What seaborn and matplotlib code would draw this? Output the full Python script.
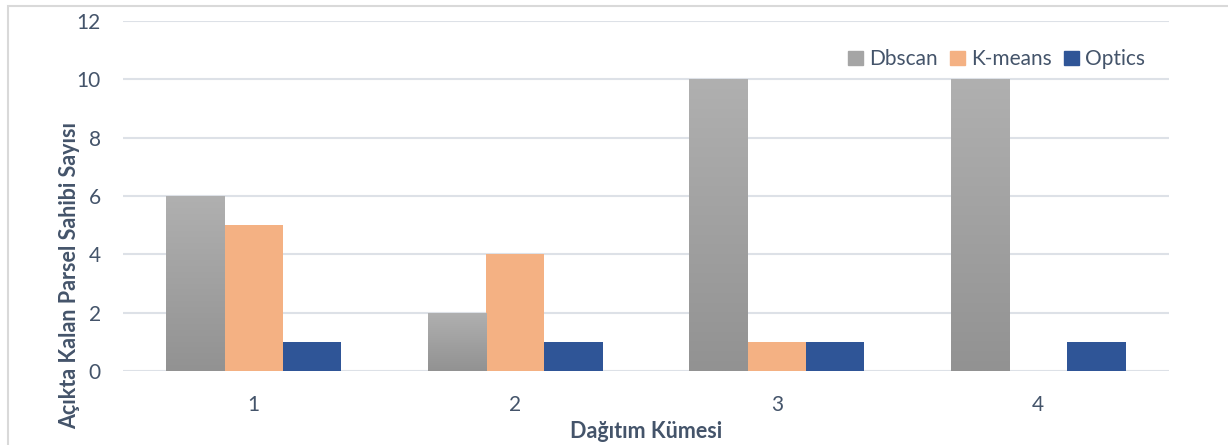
import numpy as np
import pandas as pd
import matplotlib
matplotlib.use("Agg")
import matplotlib.pyplot as plt
import matplotlib.patches as mpatches
import seaborn as sns

clusters = ["1", "2", "3", "4"]
methods = ["Dbscan", "K-means", "Optics"]
dbscan = [6, 2, 10, 10]
kmeans = [5, 4, 1, 0]
optics = [1, 1, 1, 1]
yticks = [0, 2, 4, 6, 8, 10, 12]

df = pd.DataFrame({
    "cluster": clusters * 3,
    "method": ["Dbscan"] * 4 + ["K-means"] * 4 + ["Optics"] * 4,
    "value": dbscan + kmeans + optics,
})

sns.set_theme(style="white")
plt.rcParams["font.family"] = ["Lato", "DejaVu Sans"]
text_color = "#44546A"
palette = {"Dbscan": "#A5A5A5", "K-means": "#F4B183", "Optics": "#2F5597"}

fig = plt.figure(figsize=(12.28, 4.45), dpi=100)
ax = fig.add_axes([123 / 1228, 1 - 371 / 445, (1169 - 123) / 1228, (371 - 21) / 445])

sns.barplot(data=df, x="cluster", y="value", hue="method", palette=palette,
            order=clusters, hue_order=methods, width=0.67, saturation=1,
            linewidth=0, ax=ax, legend=False, zorder=3)

# gradient fill for Dbscan bars
grad = np.linspace(0, 1, 256).reshape(-1, 1)
cmap = matplotlib.colors.LinearSegmentedColormap.from_list("g", ["#929292", "#B0B0B0"])
for p in ax.containers[0]:
    x0, y0 = p.get_x(), p.get_y()
    w, h = p.get_width(), p.get_height()
    if h <= 0:
        continue
    im = ax.imshow(grad, extent=[x0, x0 + w, y0, y0 + h], origin="lower",
                   cmap=cmap, aspect="auto", zorder=3)
    im.set_clip_path(p)
    p.set_facecolor("none")

ax.set_xlim(-0.5, 3.5)
ax.set_ylim(0, 12)
ax.set_yticks(yticks)
ax.yaxis.grid(True, color="#DDE1E7", linewidth=1.5, zorder=0)
ax.set_axisbelow(True)
for s in ax.spines.values():
    s.set_visible(False)
ax.tick_params(axis="both", length=0, labelsize=15, colors=text_color)
ax.tick_params(axis="x", pad=17)
ax.tick_params(axis="y", pad=16)

ax.set_xlabel("Dağıtım Kümesi", fontsize=15.5, fontweight="bold", color=text_color)
ax.set_ylabel("Açıkta Kalan Parsel Sahibi Sayısı", fontsize=15.5, fontweight="bold",
              color=text_color)
ax.xaxis.set_label_coords(0.5, -0.174)
ax.yaxis.set_label_coords(-0.051, 0.274)
ax.xaxis.label.set_va("center")
ax.yaxis.label.set_va("center")

handles = [mpatches.Patch(color=palette[m], label=m) for m in methods]
leg = ax.legend(handles=handles, loc="upper right", bbox_to_anchor=(0.985, 0.943), ncol=3,
                frameon=False, fontsize=15, handlelength=0.7, handleheight=0.7,
                handletextpad=0.3, columnspacing=0.6, borderaxespad=0)
for t in leg.get_texts():
    t.set_color(text_color)

# outer chart border
fig.patches.append(mpatches.Rectangle((8 / 1228, -0.1), 1.2, 1 - 6 / 445 + 0.1,
                                      transform=fig.transFigure, fill=False,
                                      edgecolor="#D9D9D9", linewidth=1.5))

fig.savefig("out.png", dpi=100)
